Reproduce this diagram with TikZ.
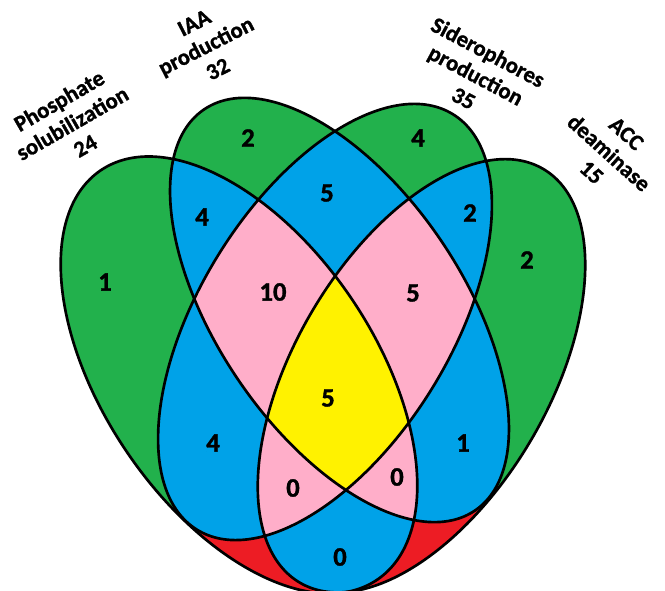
\documentclass[tikz,border=0pt]{standalone}
\usepackage{fontspec}
\setmainfont{Carlito}
\IfFontExistsTF{Carlito-Bold.ttf}
  {\newfontfamily\vfont{Carlito-Bold.ttf}[FakeBold=1.2]}
  {\newfontfamily\vfont{Carlito}[FakeBold=2.5]}
\definecolor{vgreen}{RGB}{34,177,76}
\definecolor{vblue}{RGB}{0,162,232}
\definecolor{vpink}{RGB}{255,174,201}
\definecolor{vyellow}{RGB}{255,242,0}
\definecolor{vred}{RGB}{237,28,36}
\def\ellP{[rotate around={-56:(239,-375)}] (239,-375) ellipse [x radius=247, y radius=136]}
\def\ellI{[rotate around={-56:(339.5,-310)}] (339.5,-310) ellipse [x radius=242, y radius=123]}
\def\ellS{[rotate around={58.4:(325,-322)}] (325,-322) ellipse [x radius=244, y radius=126]}
\def\ellD{[rotate around={59.5:(421.5,-375.8)}] (421.5,-375.8) ellipse [x radius=240, y radius=127]}
\tikzset{
  setlabel/.style={align=center, inner sep=0pt, font=\vfont\fontsize{17}{19.5}\selectfont},
  count/.style={inner sep=0pt, font=\vfont\fontsize{20}{24}\selectfont},
  outline/.style={draw=black, line width=2pt}
}
\begin{document}
\begin{tikzpicture}[x=0.75pt, y=0.75pt]
\useasboundingbox (0,0) rectangle (665,-591);
% one set
\fill[vgreen] \ellP;
\fill[vgreen] \ellI;
\fill[vgreen] \ellS;
\fill[vgreen] \ellD;
% detached single-set pieces
\begin{scope}
  \clip \ellP;
  \fill[vred] (185,-512) -- (400,-512) -- (400,-610) -- (150,-610) -- cycle;
\end{scope}
\begin{scope}
  \clip \ellD;
  \fill[vred] (280,-500) -- (503,-486) -- (620,-486) -- (620,-610) -- (280,-610) -- cycle;
\end{scope}
% two sets
\begin{scope}\clip \ellP; \fill[vblue] \ellI; \end{scope}
\begin{scope}\clip \ellP; \fill[vblue] \ellS; \end{scope}
\begin{scope}\clip \ellP; \fill[vblue] \ellD; \end{scope}
\begin{scope}\clip \ellI; \fill[vblue] \ellS; \end{scope}
\begin{scope}\clip \ellI; \fill[vblue] \ellD; \end{scope}
\begin{scope}\clip \ellS; \fill[vblue] \ellD; \end{scope}
% three sets
\begin{scope}\clip \ellP; \clip \ellI; \fill[vpink] \ellS; \end{scope}
\begin{scope}\clip \ellP; \clip \ellI; \fill[vpink] \ellD; \end{scope}
\begin{scope}\clip \ellP; \clip \ellS; \fill[vpink] \ellD; \end{scope}
\begin{scope}\clip \ellI; \clip \ellS; \fill[vpink] \ellD; \end{scope}
% four sets
\begin{scope}\clip \ellP; \clip \ellI; \clip \ellS; \fill[vyellow] \ellD; \end{scope}
% outlines
\draw[outline] \ellP;
\draw[outline] \ellI;
\draw[outline] \ellS;
\draw[outline] \ellD;
% set labels
\node[setlabel, rotate=30] (lphos) at (72,-123) {Phosphate\\solubilization\\24};
\node[setlabel, rotate=27] (liaa) at (206,-46) {IAA\\production\\32};
\node[setlabel, rotate=-28] (lsid) at (476,-75) {Siderophores\\production\\35};
\node[setlabel, rotate=-42] (lacc) at (609,-153) {ACC\\deaminase\\15};
% counts
\node[count] (c1) at (105,-282) {1};
\node[count] (c2) at (248,-138) {2};
\node[count] (c3) at (418,-138) {4};
\node[count] (c4) at (527,-260) {2};
\node[count] (c5) at (202,-217) {4};
\node[count] (c6) at (327,-193) {5};
\node[count] (c7) at (470,-213) {2};
\node[count] (c8) at (273,-292) {10};
\node[count] (c9) at (413,-293) {5};
\node[count] (c10) at (328,-398) {5};
\node[count] (c11) at (213,-443) {4};
\node[count] (c12) at (463,-443) {1};
\node[count] (c13) at (293,-488) {0};
\node[count] (c14) at (397,-477) {0};
\node[count] (c15) at (340,-557) {0};
\end{tikzpicture}
\end{document}
